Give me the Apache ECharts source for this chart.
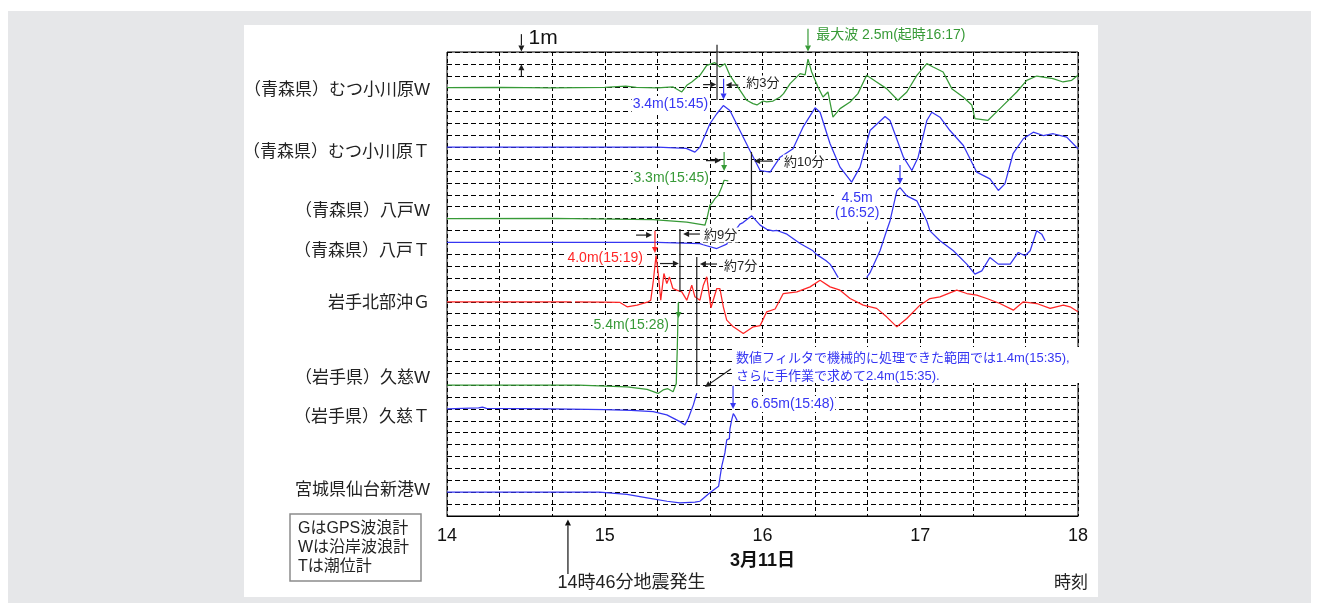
<!DOCTYPE html>
<html><head><meta charset="utf-8">
<script src="https://cdn.jsdelivr.net/npm/echarts@6/dist/echarts.min.js"></script>
<style>
html,body{margin:0;padding:0;background:#fff;}
#bg1{position:absolute;left:8px;top:11px;width:1303px;height:592px;background:#e6e7e9;}
#bg2{position:absolute;left:244px;top:25px;width:854px;height:572px;background:#fff;}
#c{position:absolute;left:0;top:0;width:1319px;height:603px;}
</style>
</head><body><div id="bg1"></div><div id="bg2"></div><div id="c"></div>
<script>
// ---------------- DATA ----------------
// time: minutes after 14:00 on 3/11 ; value: water level change (m) from each record's baseline
const stationNames = ['（青森県）むつ小川原W','（青森県）むつ小川原Ｔ','（青森県）八戸W','（青森県）八戸Ｔ','岩手北部沖Ｇ','（岩手県）久慈W','（岩手県）久慈Ｔ','宮城県仙台新港W'];
const baselines = [36, 31, 25, 23, 18, 11, 9, 2];   // record offset on the chart (1 grid = 1 m)
const hourLabels = ['14','15','16','17','18'];
const legendLines = ['GはGPS波浪計','Wは沿岸波浪計','Tは潮位計'];

const mutsuW = [[0,0],[20,0.03],[40,-0.02],[60,0.02],[68,0.14],[72,0.02],[80,-0.02],[86,0.06],[89.3,-0.36],[91.2,0.2],[93.1,0.48],[96.2,1.04],[98.8,1.88],[101.9,2.1],[103.8,1.74],[105.7,2.02],[107.6,1.04],[110.2,0.2],[114,-1.06],[116.4,-1.34],[117.9,-1.45],[120.2,-1.12],[121.6,-1.2],[124,-1.12],[126.7,-0.78],[128,-0.5],[130.5,0.34],[134.3,1.18],[136.2,1.07],[137.3,2.4],[138.7,1.32],[141.1,0.06],[143,-0.78],[144.9,-0.36],[146.8,-2.47],[149.5,-1.76],[153.3,-1.2],[156.3,-0.5],[159.6,1.04],[163.4,0.48],[167.2,-0.08],[171.5,-1.06],[174.9,-0.36],[178.7,1.04],[182.5,2.02],[184.9,1.74],[188.7,1.32],[192,-0.08],[196.3,-0.78],[199.6,-1.45],[200.8,-2.6],[205.8,-2.74],[210.3,-1.76],[216.7,-0.36],[220.5,0.62],[224.3,0.98],[230.5,0.76],[234.3,0.48],[237.6,0.62],[240,1.04]];
const mutsuT = [[0,0],[40,0],[80,0],[91,-0.1],[94.3,-0.42],[96.2,0],[100,1.97],[102.6,2.81],[105.1,3.5],[107.6,3.08],[111.4,1.4],[115.2,-0.28],[119.1,-1.96],[122.9,-2.1],[126.7,-0.84],[131.6,-0.13],[135.4,1.68],[140,3.31],[141.9,2.94],[145.7,0.29],[149.5,-1.68],[153.9,-2.94],[157.1,-1.68],[160.9,1.4],[166.6,2.58],[168.5,2.24],[173.6,-0.84],[176.8,-1.96],[179.2,-0.84],[182.5,2.24],[184.4,2.94],[187.5,2.52],[191.3,1.4],[196.4,0.14],[201.5,-2.1],[206.5,-2.66],[209.7,-3.64],[212.2,-3.08],[215.3,-0.55],[219.2,0.71],[223,1.26],[226.8,0.98],[230.6,1.13],[235.7,0.84],[240,-0.13]];
const hachiW = [[0,0],[40,0.02],[78.4,-0.08],[91.2,-0.29],[98.1,-0.56],[99,0.13],[100,1.12],[101.1,1.39],[101.9,1.68],[102.6,1.54],[103.2,1.96],[103.8,1.82],[104.5,2.66],[105.4,3.22],[106.1,3.36],[107,3.16]];
const hachiT = [[0,0],[40,0],[80,0],[96.2,-0.1],[97.4,-0.2],[102.6,-0.52],[106.4,-0.15],[107.6,0.4],[111.4,1.53],[112.6,1.66],[115.9,2.23],[119.1,1.45],[121.6,1.1],[124,0.97],[125.5,1.0],[129.3,0.69],[134.3,-0.1],[139.2,-0.71],[140.4,-0.99],[144.2,-1.55],[145.7,-1.83],[146.8,-2.2],[148.8,-2.96],[154,null],[159.6,-2.96],[160.9,-2.55],[164.7,-0.71],[167.2,0.97],[168.5,1.8],[171.1,4.33],[172.3,4.6],[174.9,3.91],[178.7,3.49],[182.5,1.8],[183.7,0.97],[187.5,0.13],[192.6,-0.71],[197.7,-1.83],[200.8,-2.67],[203.4,-2.4],[206.5,-1.27],[209.7,-1.83],[214.2,-1.83],[217.3,-0.85],[219.9,-1.13],[221.8,-0.71],[224.3,0.97],[226.2,0.69],[227.5,0.13]];
const iwateG = [[0,0],[47.4,0],[48,null],[48.7,0],[60,-0.02],[65.8,-0.05],[68.5,-0.42],[72.3,-0.28],[76.5,0],[77.5,0.14],[78.5,1.8],[79.5,3.9],[80.4,2.24],[81.3,0.14],[82.5,2.38],[83.6,1.54],[84.6,2.1],[85.9,1.12],[87.4,0.98],[89.3,0.84],[91.2,0.14],[93.1,1.4],[94.3,0.42],[96.2,0.14],[97.5,1.4],[98.8,2.1],[100.4,-0.5],[102.6,1.12],[103.8,1.12],[105.1,-0.42],[106.4,-1.54],[108.9,-2.1],[112.7,-2.66],[116.5,-2.1],[119.1,-2.0],[121.6,-0.84],[124.8,-0.6],[127.9,0.7],[133.1,0.84],[138.1,1.26],[141.9,1.82],[145.7,1.26],[149.5,0.98],[153.3,0.28],[158.3,-0.28],[163.4,-0.55],[167.2,-1.26],[171.1,-2.1],[174.9,-1.4],[179.9,-0.28],[183.7,0.28],[187.5,0.42],[193.9,0.98],[197.7,0.7],[201.5,0.56],[205.3,0.28],[210.3,-0.14],[215.4,-0.7],[219.2,0],[224.3,-0.14],[229.4,-0.55],[234.4,-0.28],[237,-0.42],[240,-0.84]];
const kujiW = [[0,0],[50,0],[68.5,-0.14],[76.1,-0.36],[80.3,-0.7],[82.2,-0.4],[84,-0.3],[86,-0.55],[86.7,-0.45],[87.2,0.14],[87.6,3.2],[87.8,5.2],[88,6.9]];
const kujiT = [[0,0],[12,0.08],[13.5,0.15],[15,0.05],[40,0],[60,-0.05],[70,-0.12],[78.4,-0.23],[83.6,-0.5],[88.6,-1.07],[90.5,-1.34],[91.8,-0.78],[93.7,0.34],[95,1.32]];
const sendaiW = [[0,0],[58,0],[68.5,-0.19],[76.1,-0.47],[83.7,-0.76],[88.6,-0.89],[94.3,-0.84],[96.2,-0.76],[100,-0.05],[103.3,0.5],[104.5,2.2],[105.7,3.3],[106.4,4.4],[107.4,4.5],[107.6,5.3],[108.3,6.1],[108.9,6.6],[109.5,6.4],[110.4,6.0]];
const records = [mutsuW, mutsuT, hachiW, hachiT, iwateG, kujiW, kujiT, sendaiW];

// ---------------- STYLE ----------------
const GREEN = '#379a37', BLUE = '#3636f2', RED = '#ff2626', INK = '#1e1e1e';
const lineColors = [GREEN, BLUE, GREEN, BLUE, RED, GREEN, BLUE, BLUE];
const FONT = "'Liberation Sans','Noto Sans CJK JP',sans-serif";
const labelNudge = [-0.2, -0.4, 0.57, -0.73, -0.13, 0.57, -0.7, 0.18];

const chart = echarts.init(document.getElementById('c'), null, {renderer: 'canvas'});
const series = records.map((rec, i) => ({
  type: 'line', name: stationNames[i], showSymbol: false, silent: true, z: 3,
  lineStyle: {color: lineColors[i], width: 1.25},
  data: rec.map(([t, h]) => [t, h === null ? '-' : baselines[i] + h])
}));

chart.setOption({
  animation: false,
  backgroundColor: 'transparent',
  grid: {left: 447, top: 52, width: 631, height: 464, show: true, borderColor: '#000', borderWidth: 1, backgroundColor: 'transparent'},
  xAxis: {
    type: 'value', min: 0, max: 240, interval: 20,
    axisLine: {show: true, lineStyle: {color: '#000', width: 1}}, axisTick: {show: false},
    axisLabel: {fontSize: 18, color: '#111', fontFamily: FONT, margin: 11,
      formatter: v => (v % 60 === 0 ? hourLabels[v / 60] : '')},
    splitLine: {show: true, lineStyle: {color: '#000', width: 1, type: [4, 3]}}
  },
  yAxis: {
    type: 'value', min: 0, max: 39, interval: 1,
    axisLine: {show: false}, axisTick: {show: false}, axisLabel: {show: false},
    splitLine: {show: true, lineStyle: {color: '#000', width: 1, type: [5, 3]}}
  },
  series: series
});

// ---------------- ANNOTATIONS (data coordinates -> pixels through the axes) ----------------
const P = (t, v) => chart.convertToPixel({gridIndex: 0}, [t, v]);
const g = [];
function seg(a, b, color, w) {
  const p = P(a[0], a[1]), q = P(b[0], b[1]);
  g.push({type: 'line', z: 20, silent: true, shape: {x1: p[0], y1: p[1], x2: q[0], y2: q[1]}, style: {stroke: color || INK, lineWidth: w || 1.2}});
}
function arrow(a, b, color) {
  color = color || INK;
  const p = P(a[0], a[1]), q = P(b[0], b[1]);
  const dx = q[0] - p[0], dy = q[1] - p[1], L = Math.hypot(dx, dy) || 1, ux = dx / L, uy = dy / L;
  const hl = 6, hw = 3, bx = q[0] - ux * hl, by = q[1] - uy * hl;
  g.push({type: 'line', z: 20, silent: true, shape: {x1: p[0], y1: p[1], x2: bx, y2: by}, style: {stroke: color, lineWidth: 1.2}});
  g.push({type: 'polygon', z: 20, silent: true, shape: {points: [[q[0], q[1]], [bx - uy * hw, by + ux * hw], [bx + uy * hw, by - ux * hw]]}, style: {fill: color}});
}
function text(a, str, o) {
  o = o || {};
  const p = P(a[0], a[1]);
  const st = {text: str, x: p[0], y: p[1], fill: o.color || INK,
    font: (o.bold ? 'bold ' : '') + (o.size || 13) + 'px ' + FONT,
    textAlign: o.align || 'left', textVerticalAlign: 'middle'};
  if (o.lh) st.lineHeight = o.lh;
  if (o.bg) { st.backgroundColor = '#fff'; st.padding = [1, 1]; }
  g.push({type: 'text', z: 22, silent: true, style: st});
}
function box(a, b) {
  const p = P(a[0], a[1]), q = P(b[0], b[1]);
  g.push({type: 'rect', z: 15, silent: true, shape: {x: p[0], y: p[1], width: q[0] - p[0], height: q[1] - p[1]}, style: {fill: '#fff'}});
}

// station names
stationNames.forEach((n, i) => text([-6.47, baselines[i] + labelNudge[i]], n, {size: 17, color: '#222', align: 'right'}));

// 1 m scale
arrow([28.3, 40.5], [28.3, 39.05]);
arrow([28.3, 36.95], [28.3, 37.98]);
text([31.0, 40.15], '1m', {size: 21, color: '#111'});

// maximum wave
arrow([137.3, 40.95], [137.3, 39.05], GREEN);
text([140.4, 40.42], '最大波 2.5m(起時16:17)', {size: 14, color: GREEN});

// Mutsu-Ogawara
seg([102.7, 39.6], [102.7, 34.96]);
arrow([97.4, 36.26], [102.4, 36.26]);
arrow([110.8, 36.22], [106.0, 36.22]);
text([113.4, 36.39], '約3分', {size: 13, bg: true});
arrow([105.2, 36.75], [105.2, 35.0], BLUE);
text([99.7, 34.62], '3.4m(15:45)', {size: 14, color: BLUE, align: 'right', bg: true});

// Hachinohe W
arrow([105.4, 30.6], [105.4, 28.99], GREEN);
arrow([98.5, 29.87], [104.2, 29.87]);
text([100.0, 28.4], '3.3m(15:45)', {size: 14, color: GREEN, align: 'right', bg: true});
seg([115.8, 30.6], [115.8, 25.71]);
arrow([124.0, 29.83], [116.8, 29.83]);
text([127.8, 29.75], '約10分', {size: 13, bg: true});

// Hachinohe T max
arrow([172.3, 29.5], [172.3, 27.9], BLUE);
text([156, 26.1], '4.5m\n(16:52)', {size: 14, color: BLUE, align: 'center', lh: 15, bg: true});

// about 9 min
arrow([71.9, 23.61], [78.0, 23.61]);
arrow([79.1, 23.98], [79.1, 22.1], RED);
seg([88.6, 24.12], [88.6, 18.82]);
arrow([96.2, 23.7], [89.8, 23.7]);
text([97.4, 23.61], '約9分', {size: 13, bg: true});

// about 7 min
arrow([81.0, 21.22], [88.2, 21.22]);
seg([95.0, 21.76], [95.0, 11.0]);
arrow([102.7, 21.18], [96.2, 21.18]);
text([105.0, 21.0], '約7分', {size: 13, bg: true});

text([74.9, 21.68], '4.0m(15:19)', {size: 14, color: RED, align: 'right', bg: true});
text([84.8, 16.05], '5.4m(15:28)', {size: 14, color: GREEN, align: 'right', bg: true});
arrow([88.05, 18.0], [88.05, 16.64], GREEN);

// Kuji W note
box([108.8, 14.2], [241.6, 11.18]);
text([109.9, 13.28], '数値フィルタで機械的に処理できた範囲では1.4m(15:35),', {size: 13, color: BLUE});
text([109.9, 11.76], 'さらに手作業で求めて2.4m(15:35).', {size: 13, color: BLUE});
arrow([108.0, 12.35], [98.1, 10.84]);

// Sendai
arrow([108.8, 10.95], [108.8, 9.0], BLUE);
text([115.25, 9.41], '6.65m(15:48)', {size: 14, color: BLUE, bg: true});

// below the axis
arrow([46, -4.87], [46, -0.3], '#111');
text([42.0, -5.63], '14時46分地震発生', {size: 18, color: '#222'});
text([120, -3.78], '3月11日', {size: 18, bold: true, color: '#111', align: 'center'});
text([243.8, -5.63], '時刻', {size: 17, color: '#222', align: 'right'});

// legend box (page layout)
g.push({type: 'rect', z: 15, silent: true, shape: {x: 290, y: 514, width: 131, height: 67}, style: {fill: '#fff', stroke: '#8c8c8c', lineWidth: 1.5}});
legendLines.forEach((s, i) => g.push({type: 'text', z: 22, silent: true,
  style: {text: s, x: 298, y: 529 + i * 19, fill: '#222', font: '16px ' + FONT, textAlign: 'left', textVerticalAlign: 'middle'}}));

chart.setOption({graphic: {elements: g}});
</script>
</body></html>
